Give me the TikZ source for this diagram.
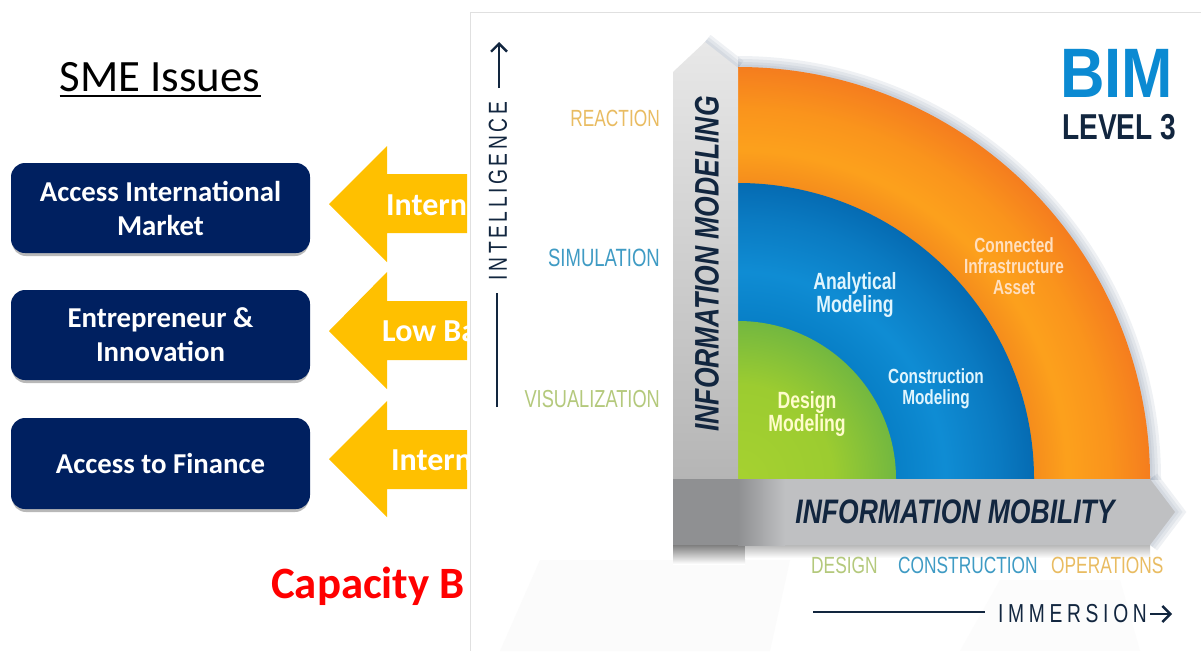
\documentclass[tikz,border=0pt]{standalone}
\usepackage{fontspec}
\setmainfont{Carlito}
\newfontfamily\narrowb[FakeStretch=0.75]{Liberation Sans Bold}
\newfontfamily\narrowbim[FakeStretch=0.88]{Liberation Sans Bold}
\newfontfamily\narrowlvl[FakeStretch=0.78]{Liberation Sans Bold}
\newfontfamily\narrowr[FakeStretch=0.74]{Liberation Sans}
\newfontfamily\narrowsp[FakeStretch=0.74,LetterSpace=13.7]{Liberation Sans}
\newfontfamily\narrowspw[FakeStretch=0.74,LetterSpace=18]{Liberation Sans}
\newfontfamily\narrowi[FakeStretch=0.78]{Liberation Sans Bold Italic}
\usetikzlibrary{arrows.meta}
\definecolor{navy}{HTML}{002060}
\definecolor{amber}{HTML}{FFC000}
\definecolor{inkdark}{HTML}{12263F}
\definecolor{lblorange}{HTML}{E9BC62}
\definecolor{lblblue}{HTML}{3F9BC4}
\definecolor{lblgreen}{HTML}{B4C97C}
\definecolor{bargrey}{HTML}{BFC0C2}
\definecolor{cornergrey}{HTML}{8F9092}
\definecolor{bimblue}{HTML}{0B8AD2}
\definecolor{shadowblue}{HTML}{7F8FA6}
\pgfdeclareradialshading{ringO}{\pgfpoint{0bp}{0bp}}{rgb(0bp)=(0.97,0.57,0.11);rgb(17.9bp)=(0.96,0.55,0.11);rgb(20bp)=(0.99,0.63,0.11);rgb(22.5bp)=(0.98,0.58,0.11);rgb(25bp)=(0.96,0.49,0.12);rgb(50bp)=(0.96,0.49,0.12)}
\pgfdeclareradialshading{ringB}{\pgfpoint{0bp}{0bp}}{rgb(0bp)=(0.03,0.49,0.78);rgb(13.3bp)=(0.03,0.50,0.78);rgb(17.5bp)=(0.06,0.55,0.83);rgb(22bp)=(0.04,0.48,0.76);rgb(25bp)=(0.02,0.42,0.70);rgb(50bp)=(0.02,0.42,0.70)}
\pgfdeclareradialshading{ringG}{\pgfpoint{0bp}{0bp}}{rgb(0bp)=(0.65,0.82,0.19);rgb(15bp)=(0.61,0.80,0.19);rgb(25bp)=(0.45,0.72,0.25);rgb(50bp)=(0.45,0.72,0.25)}
\tikzset{
  issuebox/.style={rounded corners=14pt,fill=navy},
  issueshadow/.style={rounded corners=14pt,fill=black,opacity=.28},
  issuetext/.style={text=white,font=\bfseries\fontsize{28.8}{34}\selectfont,align=center},
  arrowshape/.style={fill=amber},
  arrowtext/.style={text=white,font=\bfseries\fontsize{32}{34}\selectfont,anchor=west,inner sep=0pt},
  axislabel/.style={font=\narrowr\fontsize{23.4}{24}\selectfont,inner sep=0pt},
  ringtext/.style={font=\narrowb\fontsize{20.5}{21}\selectfont,align=center,inner sep=0pt},
  ringtextbig/.style={font=\narrowb\fontsize{23.5}{21}\selectfont,align=center,inner sep=0pt},
  barlabel/.style={font=\narrowi\fontsize{34}{36}\selectfont,text=inkdark,inner sep=0pt},
  axisline/.style={line width=2pt,draw=inkdark},
  openhead/.style={-{Straight Barb[length=8pt,width=16pt,line width=2.4pt]}}
}
\begin{document}
\begin{tikzpicture}[x=1pt,y=-1pt]
\useasboundingbox (0,0) rectangle (1201,651);
\fill[white] (0,0) rectangle (1201,651);
% left column
\node[font=\fontsize{44.8}{48}\selectfont,inner sep=0pt] (title) at (160,77) {SME Issues};
\draw[line width=1.6pt] (59.5,96) -- (261,96);
\path[issueshadow] (12,166) rectangle (309,256);
\path[issueshadow] (12,293) rectangle (309,383);
\path[issueshadow] (12,421) rectangle (309,512);
\path[issuebox] (11,163) rectangle (310,253);
\path[issuebox] (11,290) rectangle (310,380);
\path[issuebox] (11,418) rectangle (310,509);
\node[issuetext] (b1) at (160.5,208) {Access International\\Market};
\node[issuetext] (b2) at (160.5,335) {Entrepreneur \&\\Innovation};
\node[issuetext] (b3) at (160.5,463.5) {Access to Finance};
% arrows
\begin{scope}
\clip (0,0) rectangle (467,651);
\fill[arrowshape] (329,204) -- (387,146) -- (387,174) -- (470,174) -- (470,233) -- (387,233) -- (387,262) -- cycle;
\fill[arrowshape] (329,331) -- (387,272) -- (387,301) -- (470,301) -- (470,360) -- (387,360) -- (387,389) -- cycle;
\fill[arrowshape] (329,459) -- (387,401) -- (387,430) -- (470,430) -- (470,489) -- (387,489) -- (387,517) -- cycle;
\node[arrowtext] (a1) at (386,205) {Intern};
\node[arrowtext] (a2) at (382,331) {Low Ba};
\node[arrowtext] (a3) at (391,460) {Intern};
\node[anchor=west,inner sep=0pt,text=red,font=\bfseries\fontsize{44.8}{48}\selectfont] (capb) at (271,586) {Capacity B};
\end{scope}
% panel
\fill[white] (470,12) rectangle (1201,651);
\draw[black!12,line width=1pt] (470.5,651) -- (470.5,12.5) -- (1201,12.5);
\fill[black!1.5] (540,560) -- (790,560) -- (770,651) -- (500,651) -- cycle;
\fill[black!1.2] (1000,580) -- (1120,580) -- (1140,651) -- (960,651) -- cycle;
% soft shadows
\begin{scope}
\clip (738,40) rectangle (1201,479);
\foreach \w in {22,16,10,5}{
  \draw[opacity=.12,draw=shadowblue,line width=\w pt] (738,479) circle (412);
}
\end{scope}
\foreach \w in {18,12,6}{
  \draw[opacity=.12,draw=shadowblue,line width=\w pt] (705,42) -- (738,68);
  \draw[opacity=.12,draw=shadowblue,line width=\w pt] (1150,479) -- (1175,512) -- (1150,545);
}
\shade[top color=black!50,bottom color=white] (673,545) rectangle (745,564);
\shade[top color=black!28,bottom color=white] (745,545) rectangle (1150,558);
% rings
\begin{scope}
\clip (738,479) rectangle (1160,60);
\shade[shading=ringO] (738,479) circle (412);
\shade[shading=ringB] (738,479) circle (296);
\shade[shading=ringG] (738,479) circle (158);
\end{scope}
% grey bars
\shade[top color=black!9,bottom color=black!29] (673,72) -- (705,42) -- (738,68) -- (738,479) -- (673,479) -- cycle;
\fill[bargrey] (738,479) -- (1150,479) -- (1175,512) -- (1150,545) -- (738,545) -- cycle;
\shade[left color=cornergrey,right color=bargrey] (738,479) rectangle (785,545);
\fill[cornergrey] (673,479) rectangle (738,545);
% labels
\node[barlabel,rotate=90] (im) at (707,264) {INFORMATION MODELING};
\node[barlabel] (imob) at (955,512) {INFORMATION MOBILITY};
\node[ringtext,text=orange!25!white] (r1) at (1014,266) {Connected\\Infrastructure\\Asset};
\node[ringtextbig,text=cyan!12!white] (r2) at (855,295) {Analytical\\Modeling};
\node[ringtext,text=cyan!12!white] (r3) at (936,389) {Construction\\Modeling};
\node[ringtextbig,text=yellow!20!white] (r4) at (807,414) {Design\\Modeling};
\node[axislabel,text=lblorange,anchor=east] (l1) at (660,118) {REACTION};
\node[axislabel,text=lblblue,anchor=east,font=\narrowr\fontsize{25}{24}\selectfont] (l2) at (660,258) {SIMULATION};
\node[axislabel,text=lblgreen,anchor=east,font=\narrowr\fontsize{24.6}{24}\selectfont] (l3) at (660,399) {VISUALIZATION};
\node[axislabel,text=lblgreen,anchor=west] (x1) at (811,565) {DESIGN};
\node[axislabel,text=lblblue,anchor=west] (x2) at (898,565) {CONSTRUCTION};
\node[axislabel,text=lblorange,anchor=west] (x3) at (1051,565) {OPERATIONS};
\node[inner sep=0pt,rotate=90,text=inkdark,font=\narrowsp\fontsize{26}{28}\selectfont,anchor=center] (ya) at (498,191) {INTELLIGENCE};
\node[inner sep=0pt,text=inkdark,font=\narrowspw\fontsize{26}{28}\selectfont,anchor=west] (xa) at (998,614) {IMMERSION};
\coordinate (yl0) at (497,407);
\coordinate (yl1) at (497,293);
\coordinate (ya0) at (499,88);
\coordinate (ya1) at (499,42);
\coordinate (xl0) at (813,612);
\coordinate (xl1) at (985,612);
\coordinate (xa0) at (1150,614);
\coordinate (xa1) at (1172,614);
\draw[axisline] (yl0) -- (yl1);
\draw[axisline,openhead] (ya0) -- (ya1);
\draw[axisline] (xl0) -- (xl1);
\draw[axisline,openhead] (xa0) -- (xa1);
\node[inner sep=0pt,anchor=west,text=bimblue,font=\narrowbim\fontsize{70}{70}\selectfont] (bim) at (1060,73) {BIM};
\node[inner sep=0pt,anchor=west,text=inkdark,font=\narrowlvl\fontsize{36}{36}\selectfont] (lvl) at (1062,127) {LEVEL 3};
\end{tikzpicture}
\end{document}
